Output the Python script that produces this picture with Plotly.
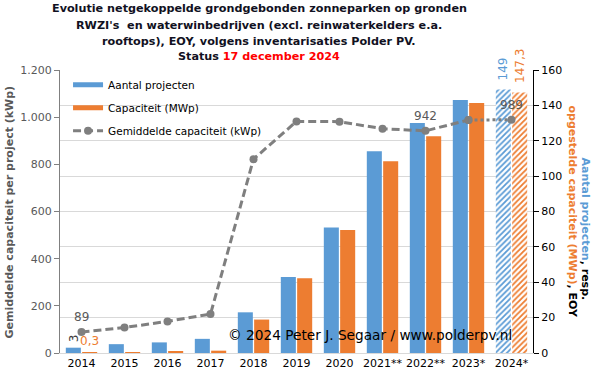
import plotly.graph_objects as go

years = ["2014", "2015", "2016", "2017", "2018", "2019", "2020", "2021**", "2022**", "2023*", "2024*"]
aantal_projecten = [3, 5, 6, 8, 23, 43, 71, 114, 130, 143, 149]
capaciteit_mwp = [0.3, 0.54, 0.8, 1.32, 18.9, 42.2, 69.6, 108.4, 122.5, 141.3, 147.3]
gem_capaciteit_kwp = [89, 108, 134, 165, 822, 982, 981, 951, 942, 988, 989]

left_ticks = [0, 200, 400, 600, 800, 1000, 1200]
left_ticktext = ["0", "200", "400", "600", "800", "1.000", "1.200"]
right_ticks = [0, 20, 40, 60, 80, 100, 120, 140, 160]

title_lines = [
    "Evolutie netgekoppelde grondgebonden zonneparken op gronden",
    "RWZI's  en waterwinbedrijven (excl. reinwaterkelders e.a.",
    "rooftops), EOY, volgens inventarisaties Polder PV.",
    "Status <span style='color:#FF0000'>17 december 2024</span>",
]

BLUE = "#5B9BD5"
ORANGE = "#ED7D31"
GREY = "#7F7F7F"
FONT = "DejaVu Sans"

n = len(years)
shapes_pat = [""] * (n - 1) + ["/"]

fig = go.Figure()

fig.add_trace(go.Bar(
    x=years, y=aantal_projecten, name="Aantal projecten", yaxis="y",
    marker=dict(color=BLUE, line=dict(width=0),
                pattern=dict(shape=shapes_pat, fgcolor=BLUE, bgcolor="white",
                             size=4, solidity=0.45, fillmode="replace")),
    showlegend=False, hoverinfo="skip"))
fig.add_trace(go.Bar(
    x=years, y=capaciteit_mwp, name="Capaciteit (MWp)", yaxis="y",
    marker=dict(color=ORANGE, line=dict(width=0),
                pattern=dict(shape=shapes_pat, fgcolor=ORANGE, bgcolor="white",
                             size=4, solidity=0.45, fillmode="replace")),
    showlegend=False, hoverinfo="skip"))

# legend proxies
fig.add_trace(go.Scatter(x=[years[0]], y=[None], mode="lines", name="Aantal projecten",
                         line=dict(color=BLUE, width=5), legendgroup="a"))
fig.add_trace(go.Scatter(x=[years[0]], y=[None], mode="lines", name="Capaciteit (MWp)",
                         line=dict(color=ORANGE, width=5), legendgroup="b"))

# average capacity line
fig.add_trace(go.Scatter(
    x=years[-2:], y=gem_capaciteit_kwp[-2:], yaxis="y2", mode="lines+markers",
    line=dict(color=GREY, width=3, dash="3px,3px"),
    marker=dict(size=8, color=GREY), showlegend=False, hoverinfo="skip"))
fig.add_trace(go.Scatter(
    x=years[:-1], y=gem_capaciteit_kwp[:-1], yaxis="y2", mode="lines+markers",
    name="Gemiddelde capaciteit (kWp)", legendgroup="c",
    line=dict(color=GREY, width=3, dash="8px,4px"),
    marker=dict(size=8, color=GREY), hoverinfo="skip"))

ann = []
def fmt(v):
    return ("%g" % v).replace(".", ",")

# bar value labels (x given as category index)
ann.append(dict(x=0, y=aantal_projecten[0], xref="x", yref="y", text=fmt(aantal_projecten[0]),
                showarrow=False, textangle=-90, xshift=-8, yanchor="bottom", yshift=3,
                font=dict(family=FONT, size=12, color="#404040")))
ann.append(dict(x=0, y=capaciteit_mwp[0], xref="x", yref="y", text=fmt(capaciteit_mwp[0]),
                showarrow=False, xshift=8, yanchor="bottom", yshift=2,
                font=dict(family=FONT, size=12, color=ORANGE)))
ann.append(dict(x=n - 1, y=aantal_projecten[-1], xref="x", yref="y", text=fmt(aantal_projecten[-1]),
                showarrow=False, textangle=-90, xshift=-9, yanchor="bottom", yshift=7,
                font=dict(family=FONT, size=12, color=BLUE)))
ann.append(dict(x=n - 1, y=capaciteit_mwp[-1], xref="x", yref="y", text=fmt(capaciteit_mwp[-1]),
                showarrow=False, textangle=-90, xshift=9, yanchor="bottom", yshift=7,
                font=dict(family=FONT, size=12, color=ORANGE)))
# line labels
for i in (0, 8, 10):
    ann.append(dict(x=i, y=gem_capaciteit_kwp[i], xref="x", yref="y2",
                    text=fmt(gem_capaciteit_kwp[i]), showarrow=False,
                    yshift=15, font=dict(family=FONT, size=12, color="#595959")))

# title, one annotation per line
for txt, ys in zip(title_lines, [62, 45, 28.5, 14]):
    ann.append(dict(x=(259 - 60) / 473, y=1, xref="paper", yref="paper", xanchor="center",
                    yanchor="middle", yshift=ys, showarrow=False, text="<b>%s</b>" % txt,
                    font=dict(family=FONT, size=11.2, color="#111122")))
# axis titles
ann.append(dict(x=0, y=0.5, xref="paper", yref="paper", xanchor="center", yanchor="middle",
                xshift=-51, yshift=-1,
                text="<b>Gemiddelde capaciteit per project (kWp)</b>", textangle=-90,
                showarrow=False, font=dict(family=FONT, size=11, color="#595959")))
ann.append(dict(x=1, y=0.5, xref="paper", yref="paper", xanchor="center", yanchor="middle",
                xshift=52, yshift=-17,
                text="<b><span style='color:%s'>Aantal projecten</span>, resp.</b>" % BLUE,
                textangle=90, showarrow=False, font=dict(family=FONT, size=11, color="black")))
ann.append(dict(x=1, y=0.5, xref="paper", yref="paper", xanchor="center", yanchor="middle",
                xshift=39, yshift=0,
                text="<b><span style='color:%s'>opgestelde capaciteit (MWp)</span>, EOY</b>" % ORANGE,
                textangle=90, showarrow=False, font=dict(family=FONT, size=11, color="black")))
# copyright
ann.append(dict(x=0.5, y=0, xref="paper", yref="paper", xanchor="center", yanchor="middle",
                xshift=73, yshift=18,
                text="© 2024 Peter J. Segaar / www.polderpv.nl", showarrow=False,
                font=dict(family=FONT, size=13.7, color="black")))

fig.update_layout(
    width=597, height=382,
    margin=dict(l=60, r=64, t=70, b=27),
    paper_bgcolor="white", plot_bgcolor="white",
    barmode="group", bargap=0.24, bargroupgap=0.08,
    font=dict(family=FONT, size=11, color="black"),
    xaxis=dict(type="category", categoryorder="array", categoryarray=years,
               range=[-0.5, n - 0.5], autorange=False,
               showline=True, linecolor="#D9D9D9", linewidth=1,
               ticks="", tickfont=dict(size=11, color="black"), showgrid=False),
    yaxis=dict(side="right", range=[0, 160], tickvals=right_ticks, showgrid=True,
               gridcolor="#D9D9D9", gridwidth=1, showline=True, linecolor="black",
               linewidth=1, ticks="outside", ticklen=5, tickcolor="black",
               tickfont=dict(size=11, color="black"), zeroline=False),
    yaxis2=dict(side="left", overlaying="y", range=[0, 1200], tickvals=left_ticks,
                ticktext=left_ticktext, showgrid=False, showline=True, linecolor="#808080",
                linewidth=1, ticks="outside", ticklen=5, tickcolor="#808080",
                tickfont=dict(size=11, color="#595959"), zeroline=False),
    legend=dict(x=0.017, y=0.999, xanchor="left", yanchor="top", bgcolor="rgba(255,255,255,0)",
                font=dict(size=10.5, color="black"), traceorder="grouped", tracegroupgap=4,
                itemwidth=30),
    annotations=ann,
)

fig.write_html("out.html", config={"displayModeBar": False},
               post_script="document.body.style.margin='0';")
